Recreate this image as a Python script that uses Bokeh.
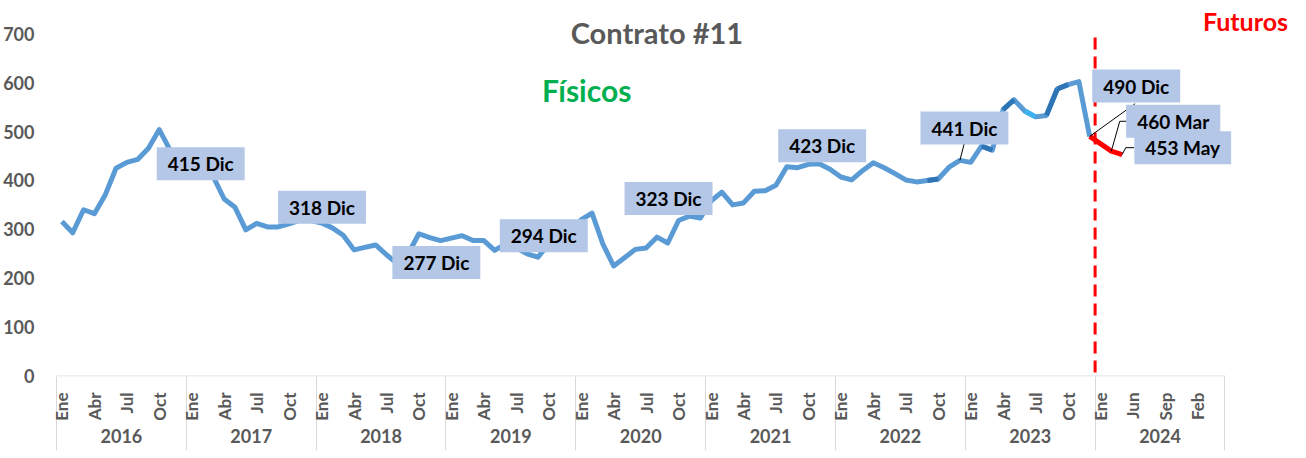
import numpy as np
from bokeh.plotting import figure
from bokeh.models import Range1d, LinearAxis, FixedTicker, Label
from bokeh.embed import file_html
from bokeh.resources import INLINE

# ---------------- data ----------------
years = ["2016", "2017", "2018", "2019", "2020", "2021", "2022", "2023", "2024"]
months = ["Ene", "Feb", "Mar", "Abr", "May", "Jun", "Jul", "Ago", "Sep", "Oct", "Nov", "Dic"]
months_2024 = ["Ene", "Mar", "May", "Jun", "Jul", "Ago", "Sep", "Oct", "Dic", "Feb", "Mar", "May"]
tick_months = ["Ene", "Abr", "Jul", "Oct"]
tick_months_2024 = ["Ene", "Jun", "Sep", "Feb"]

fis_2016 = [316, 293, 340, 332, 370, 425, 437, 443, 466, 504, 462, 415]
fis_2017 = [420, 414, 407, 362, 345, 299, 312, 305, 305, 311, 319, 318]
fis_2018 = [313, 303, 288, 258, 263, 268, 248, 230, 250, 291, 283, 277]
fis_2019 = [282, 287, 277, 277, 257, 270, 262, 250, 243, 270, 290, 294]
fis_2020 = [320, 333, 270, 225, 242, 259, 262, 284, 272, 318, 327, 323]
fis_2021 = [358, 376, 350, 354, 378, 379, 390, 428, 426, 433, 434, 423]
fis_2022 = [407, 401, 420, 436, 426, 414, 401, 397, 400, 403, 427, 441]
fis_2023 = [437, 470, 462, 545, 565, 542, 530, 533, 587, 596, 602, 490]

fut_periods = [("2023", "Dic"), ("2024", "Mar"), ("2024", "May")]
fut_values = [490, 460, 453]

# highlighted (darker) pieces of the physical line, by start month
dark_from = [("2022", "Sep"), ("2023", "Feb"), ("2023", "Abr"), ("2023", "Ago"), ("2023", "Sep")]
cyan_from = [("2023", "Jun")]

# ---------------- helpers ----------------
def slot(year, month):
    yi = years.index(year)
    cats = months_2024 if year == "2024" else months
    return yi * 12 + cats.index(month)

fis_values = fis_2016 + fis_2017 + fis_2018 + fis_2019 + fis_2020 + fis_2021 + fis_2022 + fis_2023
fis_x = list(range(len(fis_values)))
fut_x = [slot(y, m) for y, m in fut_periods]
n_slots = 12 * len(years)

FONT = "Lato"
GRAY = "#595959"
SEP = "#D9D9D9"
BOTTOM = 74

p = figure(width=1290, height=450, x_range=Range1d(-0.5, 113.56), y_range=Range1d(-1, 768),
           output_backend="svg", toolbar_location=None, x_axis_type=None, y_axis_type=None,
           min_border_left=49, min_border_right=0, min_border_top=0, min_border_bottom=BOTTOM)
p.outline_line_color = None
p.background_fill_color = "white"
p.border_fill_color = "white"

# y axis
yax = LinearAxis(ticker=FixedTicker(ticks=list(range(0, 701, 100))))
yax.axis_line_color = None
yax.major_tick_line_color = None
yax.minor_tick_line_color = None
yax.major_label_text_font = FONT
yax.major_label_text_font_style = "bold"
yax.major_label_text_font_size = "18px"
yax.major_label_text_color = GRAY
yax.major_label_standoff = 16
p.add_layout(yax, "left")

# month axis; its minor ticks are the year separators running to the bottom edge
mticks, moverrides = [], {}
for yi, yr in enumerate(years):
    labs = tick_months_2024 if yr == "2024" else tick_months
    for k, lab in enumerate(labs):
        t = yi * 12 + k * 3
        mticks.append(t)
        moverrides[t] = lab
bounds = [12 * k - 0.5 for k in range(0, len(years) + 1)]
bounds[0] += 0.001
max_ = LinearAxis(ticker=FixedTicker(ticks=mticks, minor_ticks=bounds), major_label_overrides=moverrides)
max_.major_label_orientation = np.pi / 2
max_.major_tick_line_color = None
max_.major_tick_out = 0
max_.major_tick_in = 0
max_.minor_tick_line_color = SEP
max_.minor_tick_in = 0
max_.minor_tick_out = BOTTOM + 1
max_.axis_line_color = None
max_.major_label_text_font = FONT
max_.major_label_text_font_style = "bold"
max_.major_label_text_font_size = "17px"
max_.major_label_text_color = GRAY
max_.major_label_standoff = -(BOTTOM + 1) + 16
p.add_layout(max_, "below")

# year axis
yticks = [12 * k + 5.5 for k in range(len(years))]
yax2 = LinearAxis(ticker=FixedTicker(ticks=yticks),
                  major_label_overrides={t: yr for t, yr in zip(yticks, years)})
yax2.axis_line_color = None
yax2.major_tick_line_color = None
yax2.minor_tick_line_color = None
yax2.major_tick_out = 0
yax2.major_tick_in = 0
yax2.major_label_text_font = FONT
yax2.major_label_text_font_style = "bold"
yax2.major_label_text_font_size = "18px"
yax2.major_label_text_color = GRAY
yax2.major_label_standoff = 5
p.add_layout(yax2, "below")

# x axis base line (only across the categories)
p.segment(x0=[-0.5], y0=[0], x1=[n_slots - 0.5], y1=[0], line_color=SEP, line_width=1)

# main line
p.line(fis_x, fis_values, line_width=5, line_color="#5B9BD5", line_join="round")
dx0 = [slot(y, m) for y, m in dark_from]
p.segment(x0=dx0, y0=[fis_values[i] for i in dx0], x1=[i + 1 for i in dx0],
          y1=[fis_values[i + 1] for i in dx0], line_width=5, line_color="#2E75B6")
cx0 = [slot(y, m) for y, m in cyan_from]
p.segment(x0=cx0, y0=[fis_values[i] for i in cx0], x1=[i + 1 for i in cx0],
          y1=[fis_values[i + 1] for i in cx0], line_width=5, line_color="#3DB2EE")

# futures line
p.line(fut_x, fut_values, line_width=5, line_color="#FF0000", line_join="round")

# divider
p.segment(x0=[95.5], y0=[7], x1=[95.5], y1=[700], line_color="#FF0000", line_width=3,
          line_dash="12 7")

# ------------- annotations -------------
dec_years = ["2016", "2017", "2018", "2019", "2020", "2021", "2022", "2023"]
label_centres = [(12.83, 434), (24.04, 345), (34.61, 232), (44.54, 287), (56.07, 363),
                 (70.27, 471), (83.42, 507), (99.3, 593)]
BOX = dict(text_align="center", text_baseline="middle", text_font=FONT, text_font_style="bold",
           text_font_size="19px", text_color="black", background_fill_color="#B4C7E7",
           padding=dict(left=11, right=11, top=5, bottom=5))
for yr, (lx, ly) in zip(dec_years, label_centres):
    v = fis_values[slot(yr, "Dic")]
    p.add_layout(Label(x=lx, y=ly, text=f"{v} Dic", **BOX))
fut_centres = [(102.72, 521), (103.6, 467)]
for (yr, m), v, (lx, ly) in zip(fut_periods[1:], fut_values[1:], fut_centres):
    p.add_layout(Label(x=lx, y=ly, text=f"{v} {m}", **BOX))

# leader lines
xs = [[slot("2022", "Dic"), 83.4], [slot("2023", "Dic"), 99.2],
      [slot("2024", "Mar"), 97.78, 98.6], [slot("2024", "May"), 98.33, 99.1]]
ys = [[fis_values[slot("2022", "Dic")], 475], [fut_values[0], 557],
      [fut_values[1], 521, 521], [fut_values[2], 467, 467]]
p.multi_line(xs, ys, line_color="black", line_width=1)

p.add_layout(Label(x=55.0, y=702, text="Contrato #11", text_align="center", text_baseline="middle",
                   text_font=FONT, text_font_style="bold", text_font_size="29px", text_color=GRAY))
p.add_layout(Label(x=48.5, y=584, text="Físicos", text_align="center", text_baseline="middle",
                   text_font=FONT, text_font_style="bold", text_font_size="30px", text_color="#00B050"))
p.add_layout(Label(x=109.4, y=727, text="Futuros", text_align="center", text_baseline="middle",
                   text_font=FONT, text_font_style="bold", text_font_size="25px", text_color="#FF0000"))

open("out.html", "w").write(file_html(p, INLINE))
